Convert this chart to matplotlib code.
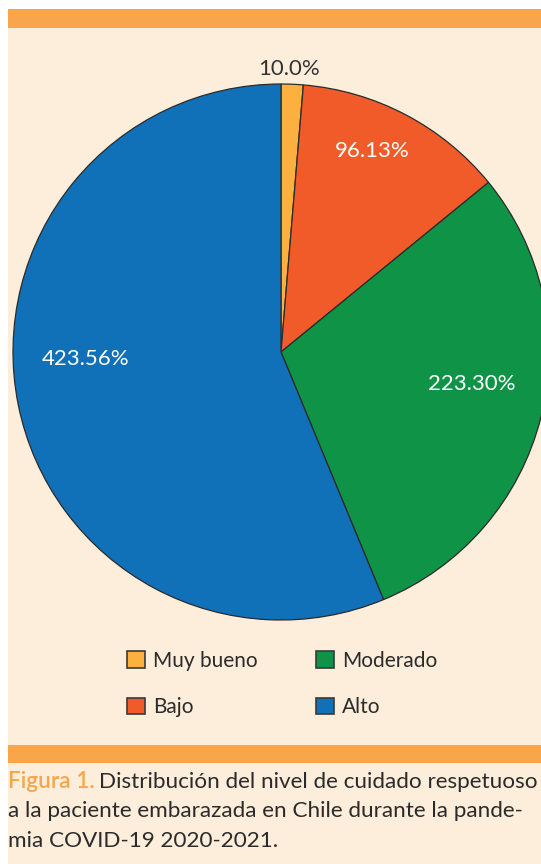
import matplotlib.pyplot as plt
from matplotlib.patches import Rectangle

plt.rcParams['font.family'] = ['Lato', 'DejaVu Sans']

categorias = ['Muy bueno', 'Bajo', 'Moderado', 'Alto']
valores = [10, 96, 223, 423]
etiquetas = ['10.0%', '96.13%', '223.30%', '423.56%']
colores = ['#FBB040', '#F15A29', '#0F9347', '#1070B8']

W, H = 541, 864
fig = plt.figure(figsize=(W / 100, H / 100), dpi=100, facecolor='white')

# fondo crema y bandas naranjas
fig.patches.append(Rectangle((8 / W, 0), 1, (H - 9) / H, transform=fig.transFigure,
                             facecolor='#FDEEDB', edgecolor='none', zorder=-2))
for y0, y1 in [(9, 28), (745, 763)]:
    fig.patches.append(Rectangle((8 / W, (H - y1) / H), 1, (y1 - y0) / H,
                                 transform=fig.transFigure, facecolor='#F9A54B',
                                 edgecolor='none', zorder=-1))

# pie: centro (281, 352), radio 268 px
cx, cy, r = 281, 352, 268
ax = fig.add_axes([(cx - r) / W, (H - cy - r) / H, 2 * r / W, 2 * r / H])
ax.set_zorder(2)
ax.set_facecolor('none')
wedges, _ = ax.pie(valores, colors=colores, startangle=90, counterclock=False,
                   wedgeprops=dict(edgecolor='#2b2b2b', linewidth=0.9))
ax.set_xlim(-1, 1)
ax.set_ylim(-1, 1)
ax.set_aspect('equal')
ax.axis('off')

pos_etiquetas = [(0.03, 1.055), (0.34, 0.75), (0.71, -0.12), (-0.73, -0.025)]
col_texto = ['#333333', 'white', 'white', 'white']
for (x, y), t, c in zip(pos_etiquetas, etiquetas, col_texto):
    ax.text(x, y, t, ha='center', va='center', fontsize=16, color=c)

handles = [Rectangle((0, 0), 1, 1, facecolor=c, edgecolor='#3a3a3a', linewidth=1.2)
           for c in colores]
leg = fig.legend(handles, categorias, loc='upper left', bbox_to_anchor=(127 / W, (H - 651) / H),
                 ncol=2, frameon=False, fontsize=15, handlelength=0.85, handleheight=0.85,
                 handletextpad=0.4, columnspacing=2.8, labelspacing=1.25, borderpad=0,
                 borderaxespad=0, labelcolor='#2b2b2b')
leg.set_zorder(3)

# pie de figura
fig.canvas.draw()
rend = fig.canvas.get_renderer()
fs = 16.2
t1 = fig.text(8 / W, (H - 788) / H, 'Figura 1.', fontsize=fs, color='#F9A54B',
              fontweight='semibold', va='baseline')
bb = t1.get_window_extent(rend)
fig.text((bb.x1 + 4) / W, (H - 788) / H, 'Distribución del nivel de cuidado respetuoso',
         fontsize=fs, color='#2b2b2b', va='baseline')
fig.text(8 / W, (H - 817) / H, 'a la paciente embarazada en Chile durante la pande-',
         fontsize=fs, color='#2b2b2b', va='baseline')
fig.text(8 / W, (H - 847) / H, 'mia COVID-19 2020-2021.',
         fontsize=fs, color='#2b2b2b', va='baseline')

fig.savefig('out.png', dpi=100)
